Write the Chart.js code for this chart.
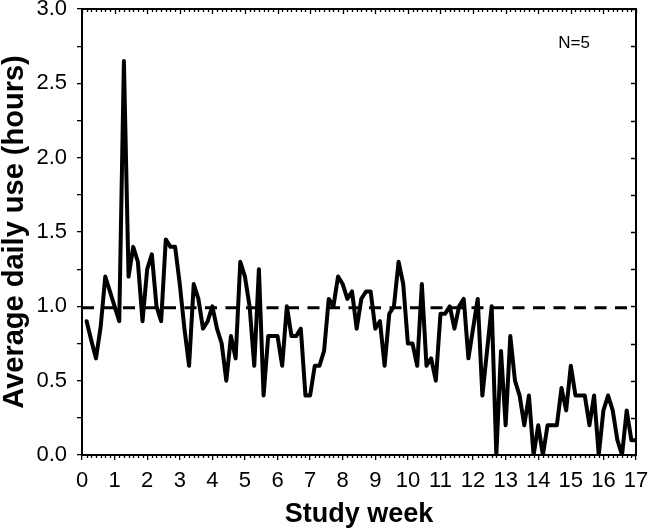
<!DOCTYPE html>
<html>
<head>
<meta charset="utf-8">
<script src="https://cdn.jsdelivr.net/npm/chart.js@4.4.0/dist/chart.umd.min.js"></script>
<style>
  html, body { margin: 0; padding: 0; background: #fff; }
</style>
</head>
<body>
<canvas id="myChart" width="650" height="531"></canvas>
<script>
// average daily use (hours), one value per study day, day 1 .. day 119
var dailyUse = [
  0.9, 0.77, 0.65, 0.86, 1.2, 1.1, 1.0, 0.9, 2.65, 1.2,
  1.4, 1.3, 0.9, 1.25, 1.35, 1.0, 0.9, 1.45, 1.4, 1.4,
  1.15, 0.85, 0.6, 1.15, 1.05, 0.85, 0.9, 1.0, 0.85, 0.75,
  0.5, 0.8, 0.65, 1.3, 1.2, 1.0, 0.6, 1.25, 0.4, 0.8,
  0.8, 0.8, 0.6, 1.0, 0.8, 0.8, 0.85, 0.4, 0.4, 0.6,
  0.6, 0.7, 1.05, 1.0, 1.2, 1.15, 1.05, 1.1, 0.85, 1.05,
  1.1, 1.1, 0.85, 0.9, 0.6, 0.95, 1.0, 1.3, 1.15, 0.75,
  0.75, 0.6, 1.15, 0.6, 0.65, 0.5, 0.95, 0.95, 1.0, 0.85,
  1.0, 1.05, 0.65, 0.85, 1.05, 0.4, 0.7, 1.0, 0.0, 0.7,
  0.2, 0.8, 0.5, 0.4, 0.2, 0.4, 0.0, 0.2, 0.0, 0.2,
  0.2, 0.2, 0.45, 0.3, 0.6, 0.4, 0.4, 0.4, 0.2, 0.4,
  0.0, 0.3, 0.4, 0.3, 0.1, 0.0, 0.3, 0.1, 0.1
];
var meanUse = 0.99;        // dashed reference line
var daysPerWeek = 7;
var weekRange = [0, 17];
var useRange = [0, 3];
var noteText = 'N=5';

var FONT = "'Liberation Sans', Arial, Helvetica, sans-serif";
Chart.defaults.font.family = FONT;
Chart.defaults.color = '#000';

var usePoints = dailyUse.map(function (v, i) {
  return { x: (i + 1) / daysPerWeek, y: v };
});
var meanPoints = [{ x: weekRange[0], y: meanUse }, { x: weekRange[1], y: meanUse }];

// minor ticks, mirrored top/right ticks, the closed frame and the N label
var frameTicks = {
  id: 'frameTicks',
  afterDraw: function (chart) {
    var ctx = chart.ctx, a = chart.chartArea;
    var xs = chart.scales.x, ys = chart.scales.y;
    ctx.save();
    ctx.strokeStyle = '#000';
    ctx.lineWidth = 2;
    ctx.beginPath();
    ctx.moveTo(a.left - 1, a.top);
    ctx.lineTo(a.right, a.top);
    ctx.lineTo(a.right, a.bottom + 1);
    ctx.stroke();

    ctx.lineWidth = 1.3;
    ctx.beginPath();
    var nDays = (weekRange[1] - weekRange[0]) * daysPerWeek;
    for (var d = 0; d <= nDays; d++) {
      var px = Math.round(xs.getPixelForValue(d / daysPerWeek)) + 0.5;
      var major = d % daysPerWeek === 0;
      if (!major) {
        ctx.moveTo(px, a.bottom);
        ctx.lineTo(px, a.bottom + 3);
      }
      ctx.moveTo(px, a.top);
      ctx.lineTo(px, a.top + (major ? 5 : 3));
    }
    for (var v = useRange[0]; v <= useRange[1] + 1e-9; v += 0.25) {
      var py = Math.round(ys.getPixelForValue(v)) + 0.5;
      ctx.moveTo(a.right, py);
      ctx.lineTo(a.right - 5, py);
    }
    ctx.stroke();

    ctx.fillStyle = '#000';
    ctx.font = '17px ' + FONT;
    ctx.textAlign = 'center';
    ctx.textBaseline = 'middle';
    ctx.fillText(noteText, xs.getPixelForValue(15.1), ys.getPixelForValue(2.77));
    ctx.restore();
  }
};

var ctx = document.getElementById('myChart').getContext('2d');
var myChart = new Chart(ctx, {
  type: 'line',
  data: {
    datasets: [{
      label: 'Average daily use',
      data: usePoints,
      borderColor: '#000',
      borderWidth: 4,
      borderJoinStyle: 'round',
      borderCapStyle: 'round',
      pointRadius: 0,
      tension: 0,
      fill: false
    }, {
      label: 'Mean',
      data: meanPoints,
      borderColor: '#000',
      borderWidth: 3,
      borderDash: [12, 8.5],
      pointRadius: 0,
      fill: false
    }]
  },
  options: {
    responsive: false,
    animation: false,
    devicePixelRatio: 1,
    layout: { padding: { top: 9, right: 14, left: 0, bottom: 0 } },
    plugins: { legend: { display: false }, tooltip: { enabled: false } },
    scales: {
      x: {
        type: 'linear',
        min: weekRange[0],
        max: weekRange[1],
        ticks: { stepSize: 1, autoSkip: false, maxRotation: 0, padding: 8, font: { size: 22 } },
        grid: { drawOnChartArea: false, tickLength: 5, color: '#000', lineWidth: 1.3 },
        border: { color: '#000', width: 2 },
        title: { display: true, text: 'Study week', font: { size: 27, weight: 'bold', lineHeight: 1 }, padding: { top: 0, bottom: 3 } },
        afterFit: function (s) { s.height = 76; s.paddingLeft = 0; s.paddingRight = 0; }
      },
      y: {
        min: useRange[0],
        max: useRange[1],
        ticks: {
          stepSize: 0.25,
          autoSkip: false,
          padding: 10,
          font: { size: 22 },
          callback: function (v) {
            return Math.abs(v * 2 - Math.round(v * 2)) < 1e-6 ? Number(v).toFixed(1) : '';
          }
        },
        grid: { drawOnChartArea: false, tickLength: 5, color: '#000', lineWidth: 1.3 },
        border: { color: '#000', width: 2 },
        title: { display: true, text: 'Average daily use (hours)', font: { size: 29, weight: 'bold', lineHeight: 1 }, padding: { top: 0, bottom: 0 } },
        afterFit: function (s) { s.width = 82; s.paddingTop = 0; s.paddingBottom = 0; }
      }
    }
  },
  plugins: [frameTicks]
});
</script>
</body>
</html>
